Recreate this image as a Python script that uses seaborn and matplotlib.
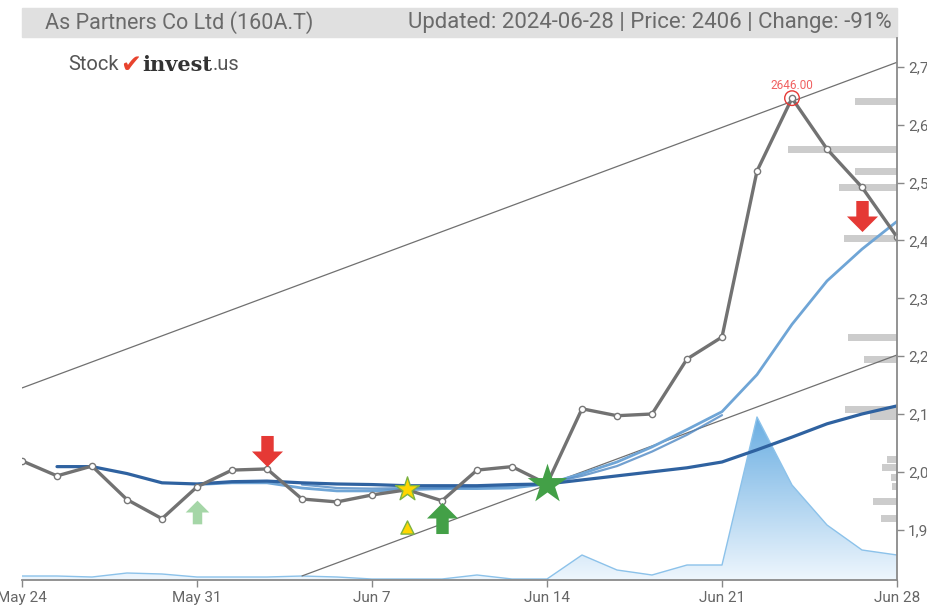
import numpy as np
import pandas as pd
import matplotlib
matplotlib.use("Agg")
import matplotlib.pyplot as plt
from matplotlib.path import Path
from matplotlib.patches import Rectangle
from matplotlib.colors import LinearSegmentedColormap
import seaborn as sns

# ---------------- data ----------------
dates = ["May 24", "May 27", "May 28", "May 29", "May 30", "May 31",
         "Jun 3", "Jun 4", "Jun 5", "Jun 6", "Jun 7",
         "Jun 10", "Jun 11", "Jun 12", "Jun 13", "Jun 14",
         "Jun 17", "Jun 18", "Jun 19", "Jun 20", "Jun 21",
         "Jun 24", "Jun 25", "Jun 26", "Jun 27", "Jun 28"]
price = [2019, 1993, 2010, 1952, 1919, 1974, 2003, 2005, 1953, 1948, 1960,
         1969, 1950, 2003, 2009, 1979, 2109, 2097, 2100, 2195, 2233,
         2520, 2646, 2558, 2492, 2406]
volume = [4, 4, 3, 7, 6, 3, 3, 3, 4, 3, 1, 1, 1, 5, 1, 1,
          25, 10, 5, 15, 15, 163, 95, 55, 30, 25]

ma_long_idx = list(range(1, 26))
ma_long = [2009, 2009, 1997, 1981, 1979, 1983, 1984, 1981, 1979, 1978, 1976,
           1976, 1976, 1978, 1979, 1986, 1993, 2000, 2007, 2017, 2038, 2060,
           2083, 2100, 2114]
ma_mid_idx = list(range(8, 21))
ma_mid = [1978, 1972, 1971, 1972, 1972, 1974, 1976, 1979, 1993, 2010, 2035,
          2064, 2098]
ma_short_idx = list(range(5, 26))
ma_short = [1978, 1981, 1981, 1972, 1967, 1967, 1969, 1971, 1971, 1972, 1979,
            1997, 2017, 2043, 2073, 2104, 2168, 2255, 2330, 2385, 2433]

upper_trend_idx = [0, 25]
upper_trend = [2145, 2708]
lower_trend_idx = [8, 25]
lower_trend = [1820, 2202]

profile_levels = [2640, 2558, 2520, 2492, 2404, 2233, 2195, 2107, 2095,
                  2021, 2007, 1990, 1974, 1948, 1919]
profile_volume = [42, 109, 42, 58, 53, 49, 33, 52, 27, 10, 15, 6, 5, 24, 16]

sell_idx = [7, 24]
sell_val = [2036, 2442]
buy_weak_idx = [5]
buy_weak_val = [1931]
buy_idx = [12]
buy_val = [1921]
star_yellow_idx = [11]
star_yellow_val = [1971]
tri_yellow_idx = [11]
tri_yellow_val = [1905]
star_green_idx = [15]
star_green_val = [1979]
peak_idx = 22
peak_val = 2646

tick_idx = [0, 5, 10, 15, 20, 25]
tick_labels = ["May 24", "May 31", "Jun 7", "Jun 14", "Jun 21", "Jun 28"]
ytick_vals = [1900, 2000, 2100, 2200, 2300, 2400, 2500, 2600, 2700]

title_left = "As Partners Co Ltd (160A.T)"
title_right = "Updated: 2024-06-28 | Price: 2406 | Change: -91%"

# ---------------- style ----------------
sns.set_theme(style="white")
plt.rcParams['font.family'] = ['Roboto', 'DejaVu Sans']

W, H = 928, 608
fig = plt.figure(figsize=(W / 100, H / 100), dpi=100)
L, R, T, B = 22, 897, 38, 580
ax = fig.add_axes([L / W, 1 - B / H, (R - L) / W, (B - T) / H])
ax_vol = ax.twinx()
ax_prof = ax.twiny()
ax_vol.set_zorder(0)
ax_prof.set_zorder(1)
ax.set_zorder(2)
ax.patch.set_visible(False)
ax_prof.patch.set_visible(False)

# volume area with gradient
idx = np.arange(len(price))
vol_max = max(volume)
ax_vol.set_ylim(0, vol_max * (B - T) / 163)
ax_vol.set_xlim(0, 25)
poly = ax_vol.fill_between(idx, volume, 0, color='none', lw=0)
cmap = LinearSegmentedColormap.from_list("v", ["#eef6fd", "#6aaee2"])
grad = np.linspace(0, 1, 256).reshape(-1, 1)
im = ax_vol.imshow(grad, extent=[0, 25, 0, vol_max], origin='lower',
                   aspect='auto', cmap=cmap, zorder=1)
im.set_clip_path(poly.get_paths()[0], transform=ax_vol.transData)
sns.lineplot(x=idx, y=volume, ax=ax_vol, color="#8cc2ea", linewidth=1.0,
             legend=False, zorder=2)
ax_vol.set_yticks([])
ax_vol.set_ylabel("")
for s in ax_vol.spines.values():
    s.set_visible(False)

# price-volume profile on right
ax_prof.barh(profile_levels, profile_volume, height=12, color="#cccccc", lw=0)
ax_prof.set_xlim(875, 0)
ax_prof.set_xticks([])
for s in ax_prof.spines.values():
    s.set_visible(False)

# trendlines
sns.lineplot(x=upper_trend_idx, y=upper_trend, ax=ax, color="#707070",
             linewidth=0.9, legend=False)
sns.lineplot(x=lower_trend_idx, y=lower_trend, ax=ax, color="#707070",
             linewidth=0.9, legend=False)

# moving averages
sns.lineplot(x=ma_short_idx, y=ma_short, ax=ax, color="#6fa5d6",
             linewidth=2.0, legend=False)
sns.lineplot(x=ma_mid_idx, y=ma_mid, ax=ax, color="#4f88c4",
             linewidth=1.6, alpha=0.8, legend=False)
sns.lineplot(x=ma_long_idx, y=ma_long, ax=ax, color="#2f62a0",
             linewidth=2.3, legend=False)

# price
sns.lineplot(x=idx, y=price, ax=ax, color="#727272", linewidth=2.4,
             marker='o', markersize=4.5, markerfacecolor='white',
             markeredgecolor='#777777', markeredgewidth=1.0, legend=False)

# signal markers
up = Path([(-0.2, -0.5), (0.2, -0.5), (0.2, 0.0), (0.5, 0.0), (0.0, 0.5),
           (-0.5, 0.0), (-0.2, 0.0), (-0.2, -0.5)],
          [Path.MOVETO] + [Path.LINETO] * 6 + [Path.CLOSEPOLY])
down = Path([(x, -y) for x, y in up.vertices], up.codes)
ax.scatter(sell_idx, sell_val, marker=down, s=500, color="#e53935",
           lw=0, zorder=6)
ax.scatter(buy_weak_idx, buy_weak_val, marker=up, s=290, color="#a5d6a7",
           lw=0, zorder=6)
ax.scatter(buy_idx, buy_val, marker=up, s=500, color="#43a047",
           lw=0, zorder=6)
ax.scatter(star_yellow_idx, star_yellow_val, marker='*', s=330,
           color="#ffd600", edgecolor="#7cb342", lw=1, zorder=6)
ax.scatter(tri_yellow_idx, tri_yellow_val, marker='^', s=90,
           color="#ffd600", edgecolor="#7cb342", lw=1, zorder=6)
ax.scatter(star_green_idx, star_green_val, marker='*', s=900,
           color="#43a047", lw=0, zorder=6)

# peak annotation
ax.scatter([peak_idx], [peak_val], s=110, facecolor='none',
           edgecolor="#e53935", lw=1.0, zorder=7)
ax.annotate(f"{peak_val:.2f}", (peak_idx, peak_val), xytext=(0, 9),
            textcoords='offset points', ha='center', va='center',
            color="#f06060", fontsize=8.5, zorder=8)

# axes styling
ax.set_xlim(0, 25)
ax.set_ylim(1813, 2750)
ax.set_xlabel("")
ax.set_ylabel("")
ax.yaxis.tick_right()
ax.set_yticks(ytick_vals)
ax.set_yticklabels([f"{v:,}" for v in ytick_vals])
ax.set_xticks(tick_idx)
ax.set_xticklabels(tick_labels)
ax.tick_params(axis='both', direction='out', length=5, width=1,
               color="#888888", labelcolor="#666666", labelsize=11)
ax.tick_params(axis='x', pad=3)
ax.tick_params(axis='y', pad=3, left=False, right=True)
for side in ['left', 'top']:
    ax.spines[side].set_visible(False)
for side in ['right', 'bottom']:
    ax.spines[side].set_visible(True)
    ax.spines[side].set_color("#8a8a8a")
    ax.spines[side].set_linewidth(1.3)
ax.grid(False)

# title bar
fig.patches.append(Rectangle((L / W, 1 - 37 / H), (R - L) / W, 29 / H,
                             transform=fig.transFigure, color="#e0e0e0",
                             zorder=0))
fig.text(45 / W, 1 - 22.5 / H, title_left, ha='left', va='center',
         fontsize=15.5, color="#6a6a6a")
fig.text(892 / W, 1 - 22.5 / H, title_right, ha='right', va='center',
         fontsize=16, color="#6a6a6a")

# logo (pieces placed one after another)
renderer = fig.canvas.get_renderer()
x_px = 68
pieces = [("Stock", dict(fontsize=14.5, color="#555555")),
          ("\u2714", dict(fontsize=18, color="#e8432e", family=['DejaVu Sans'])),
          ("invest", dict(fontsize=15, color="#333333", fontweight='bold',
                          family=['DejaVu Serif'])),
          (".us", dict(fontsize=14.5, color="#555555"))]
gaps = [2, 1, 0, 0]
for (txt, kw), g in zip(pieces, gaps):
    t = fig.text(x_px / W, 1 - 65 / H, txt, ha='left', va='center', **kw)
    bb = t.get_window_extent(renderer)
    x_px += bb.width + g

fig.savefig("out.png", dpi=100)
